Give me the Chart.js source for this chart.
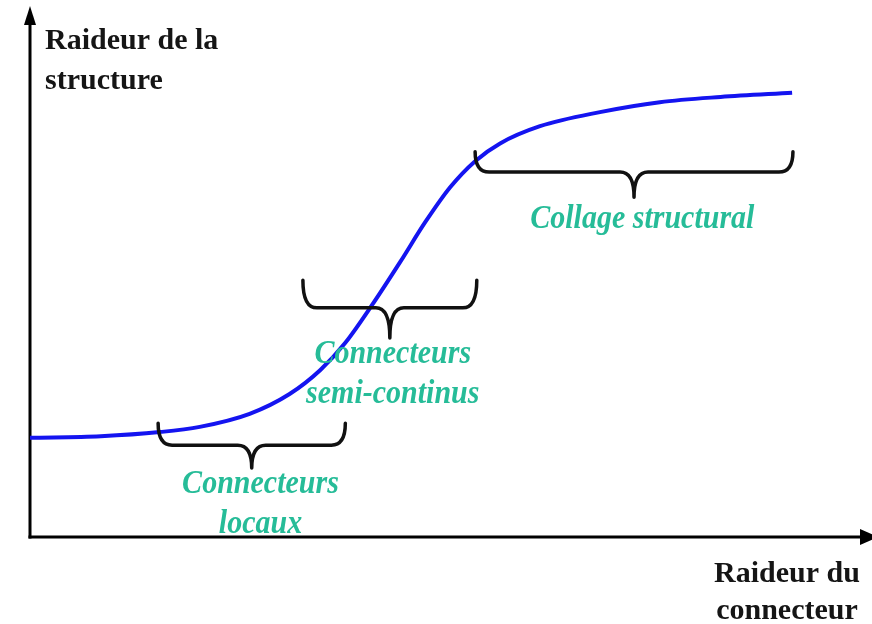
<!DOCTYPE html>
<html>
<head>
<meta charset="utf-8">
<script src="https://cdn.jsdelivr.net/npm/chart.js@4"></script>
<style>
  html, body { margin: 0; padding: 0; background: #ffffff; }
  #wrap { width: 872px; height: 624px; position: relative; }
</style>
</head>
<body>
<div id="wrap"><canvas id="c" width="872" height="624"></canvas></div>
<script>
// ---- Data (arbitrary 0..100 units) ----
const curveX = [0, 8.5, 15.6, 20.4, 26.4, 31.2, 34.9, 37.9, 41.1, 44.5, 47.5, 50.5, 53.5, 56.5, 61.3, 68.5, 75.7, 83.0, 91.6];
const curveY = [19.0, 19.3, 20.1, 21.1, 23.6, 27.4, 32.0, 37.2, 44.4, 52.7, 60.3, 67.0, 72.0, 75.4, 78.7, 81.4, 83.3, 84.3, 85.1];

// Brace ranges (connector-stiffness ranges) and levels
const braceStart = [15.4, 32.8, 53.5];
const braceEnd   = [37.9, 53.7, 91.7];
const braceTop   = [21.8, 49.2, 73.8];
const braceMid   = [17.6, 43.9, 69.9];
const braceTip   = [13.2, 38.1, 65.1];

// Region labels
const regionLabels = [["Connecteurs", "locaux"], ["Connecteurs", "semi-continus"], ["Collage structural"]];
const labelX = [27.7, 43.6, 73.6];
const labelY = [8.4, 33.3, 59.2];

// Axis titles
const yTitle = ["Raideur de la", "structure"];
const xTitle = ["Raideur du", "connecteur"];

const points = curveX.map((x, i) => ({ x: x, y: curveY[i] }));

const decorPlugin = {
  id: 'decor',
  beforeDatasetsDraw(chart) {
    const ctx = chart.ctx;
    const a = chart.chartArea;
    ctx.save();
    ctx.strokeStyle = '#000';
    ctx.fillStyle = '#000';
    ctx.lineWidth = 3;
    // y axis
    ctx.beginPath();
    ctx.moveTo(a.left, a.bottom + 1.5);
    ctx.lineTo(a.left, 20);
    ctx.stroke();
    ctx.beginPath();
    ctx.moveTo(a.left, 6);
    ctx.lineTo(a.left - 6, 25);
    ctx.lineTo(a.left + 6, 25);
    ctx.closePath();
    ctx.fill();
    // x axis
    ctx.beginPath();
    ctx.moveTo(a.left - 1.5, a.bottom);
    ctx.lineTo(862, a.bottom);
    ctx.stroke();
    ctx.beginPath();
    ctx.moveTo(878, a.bottom);
    ctx.lineTo(860, a.bottom - 8);
    ctx.lineTo(860, a.bottom + 8);
    ctx.closePath();
    ctx.fill();
    ctx.restore();
  },
  afterDatasetsDraw(chart) {
    const ctx = chart.ctx;
    const xs = chart.scales.x, ys = chart.scales.y;
    ctx.save();
    // braces
    ctx.strokeStyle = '#111';
    ctx.lineWidth = 3.5;
    ctx.lineCap = 'round';
    ctx.lineJoin = 'round';
    for (let i = 0; i < braceStart.length; i++) {
      const x0 = xs.getPixelForValue(braceStart[i]);
      const x1 = xs.getPixelForValue(braceEnd[i]);
      const xc = (x0 + x1) / 2;
      const top = ys.getPixelForValue(braceTop[i]);
      const mid = ys.getPixelForValue(braceMid[i]);
      const tip = ys.getPixelForValue(braceTip[i]);
      const r = 14;
      ctx.beginPath();
      ctx.moveTo(x0, top);
      ctx.quadraticCurveTo(x0, mid, x0 + r, mid);
      ctx.lineTo(xc - r, mid);
      ctx.quadraticCurveTo(xc, mid, xc, tip);
      ctx.quadraticCurveTo(xc, mid, xc + r, mid);
      ctx.lineTo(x1 - r, mid);
      ctx.quadraticCurveTo(x1, mid, x1, top);
      ctx.stroke();
    }
    // region labels (bold italic, slightly tall)
    ctx.fillStyle = '#26bc98';
    ctx.font = 'italic bold 30px "Liberation Serif", "DejaVu Serif", serif';
    ctx.textAlign = 'center';
    ctx.textBaseline = 'alphabetic';
    for (let i = 0; i < regionLabels.length; i++) {
      const px = xs.getPixelForValue(labelX[i]);
      const py = ys.getPixelForValue(labelY[i]);
      regionLabels[i].forEach((t, k) => {
        ctx.save();
        ctx.translate(px, py + k * 40);
        ctx.scale(1, 1.12);
        ctx.fillText(t, 0, 0);
        ctx.restore();
      });
    }
    // axis titles
    ctx.fillStyle = '#151515';
    ctx.font = 'bold 30px "Liberation Serif", "DejaVu Serif", serif';
    ctx.textAlign = 'left';
    ctx.fillText(yTitle[0], 45, 49);
    ctx.fillText(yTitle[1], 45, 89);
    ctx.textAlign = 'center';
    ctx.fillText(xTitle[0], 787, 582);
    ctx.fillText(xTitle[1], 787, 619);
    ctx.restore();
  }
};

new Chart(document.getElementById('c'), {
  type: 'scatter',
  data: {
    datasets: [{
      data: points,
      showLine: true,
      borderColor: '#1414f0',
      borderWidth: 4,
      pointRadius: 0,
      cubicInterpolationMode: 'monotone',
      fill: false
    }]
  },
  options: {
    responsive: false,
    animation: false,
    layout: { padding: { left: 30, right: 10, top: 15, bottom: 87 } },
    plugins: { legend: { display: false }, tooltip: { enabled: false } },
    scales: {
      x: { type: 'linear', min: 0, max: 100, display: false },
      y: { type: 'linear', min: 0, max: 100, display: false }
    }
  },
  plugins: [decorPlugin]
});
</script>
</body>
</html>
